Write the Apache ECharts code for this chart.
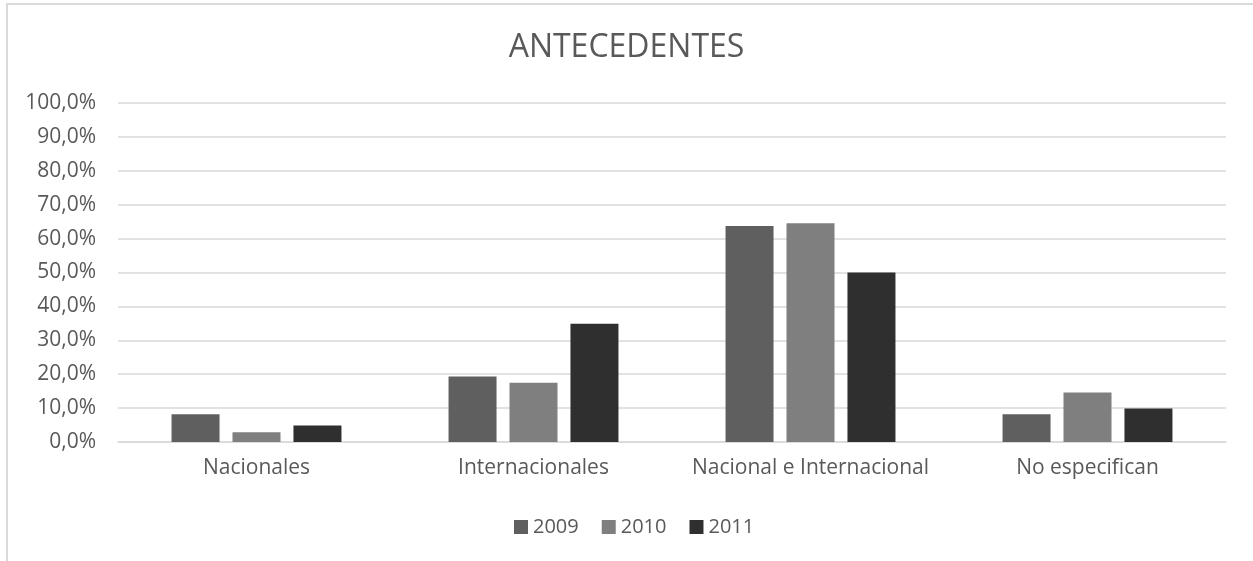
<!DOCTYPE html>
<html>
<head>
<meta charset="utf-8">
<title>ANTECEDENTES</title>
<script src="https://cdn.jsdelivr.net/npm/echarts@6/dist/echarts.min.js"></script>
<style>
  html, body { margin: 0; padding: 0; background: #fff; }
  #chart { width: 1253px; height: 561px; }
  #frame {
    position: absolute; left: 6px; top: 3px; width: 1300px; height: 700px;
    border: 2px solid #d9d9d9; pointer-events: none;
  }
</style>
</head>
<body>
<div id="chart"></div>
<div id="frame"></div>
<script>
// categorias y valores (%)
var categories = ['Nacionales', 'Internacionales', 'Nacional e Internacional', 'No especifican'];
var years = ['2009', '2010', '2011'];
var v2009 = [8.2, 19.3, 63.7, 8.2];
var v2010 = [2.9, 17.5, 64.5, 14.6];
var v2011 = [4.9, 34.9, 50.0, 9.9];
var colors = ['#5f5f5f', '#7f7f7f', '#2f2f2f'];

var font = '"Open Sans", Lato, sans-serif';
var myChart = echarts.init(document.getElementById('chart'));

function makeSeries(name, data, color) {
    return {
        name: name,
        type: 'bar',
        data: data,
        barWidth: 48,
        barGap: '27%',
        itemStyle: { color: color },
        emphasis: { disabled: true }
    };
}

myChart.setOption({
    animation: false,
    textStyle: { fontFamily: font },
    title: {
        text: 'ANTECEDENTES',
        left: 'center',
        top: 27,
        textStyle: { fontFamily: font, fontSize: 32, fontWeight: 'normal', color: '#595959' }
    },
    legend: {
        data: years,
        bottom: 19,
        left: 509,
        itemWidth: 14,
        itemHeight: 14,
        itemGap: 23,
        icon: 'rect',
        textStyle: { fontFamily: font, fontSize: 20, color: '#595959' }
    },
    grid: {
        left: 118,
        right: 27,
        top: 103,
        bottom: 119
    },
    xAxis: {
        type: 'category',
        data: categories,
        axisTick: { show: false },
        axisLine: { lineStyle: { color: '#d9d9d9', width: 1.5 } },
        axisLabel: { fontFamily: font, fontSize: 21, color: '#595959', margin: 16, interval: 0 }
    },
    yAxis: {
        type: 'value',
        min: 0,
        max: 100,
        interval: 10,
        axisLine: { show: false },
        axisTick: { show: false },
        splitLine: { lineStyle: { color: '#d9d9d9', width: 1.5 } },
        axisLabel: {
            fontFamily: font, fontSize: 21, color: '#595959', margin: 22,
            formatter: function (val) {
                return val.toFixed(1).replace('.', ',') + '%';
            }
        }
    },
    series: [
        makeSeries(years[0], v2009, colors[0]),
        makeSeries(years[1], v2010, colors[1]),
        makeSeries(years[2], v2011, colors[2])
    ]
});
</script>
</body>
</html>
